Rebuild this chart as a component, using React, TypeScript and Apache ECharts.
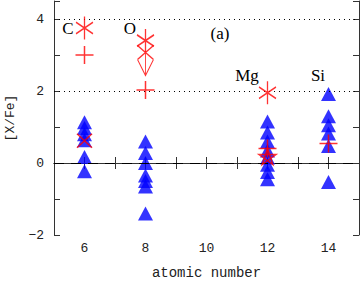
import React, { useEffect, useRef } from "react";
import * as echarts from "echarts";

// Atomic numbers of the elements
const elementNames = ["C", "O", "Mg", "Si"];
const atomicNumbers = [6, 8, 12, 14];

// Blue triangles: [X/Fe] values per element
const triC = [1.13, 0.97, 0.8, 0.63, 0.17, -0.23];
const triO = [0.6, 0.28, 0.0, -0.35, -0.5, -0.65, -1.4];
const triMg = [1.15, 0.85, 0.6, 0.35, 0.15, -0.05, -0.25, -0.45];
const triSi = [1.92, 1.3, 1.05, 0.82, 0.47, -0.53];

// Red markers: [atomic number, [X/Fe]]
const asteriskPts = [[6, 3.75], [8, 3.4], [12, 1.95]];
const plusPts = [[6, 3.0], [8, 2.03], [12, 0.4], [14, 0.54]];
const crossPts = [[6, 0.62]];
const starPts = [[12, 0.18]];
const upperLimitPts = [[8, 3.07]];

// Reference lines
const dottedLevels = [4, 2];
const dashedLevels = [0];

const xTicks = [6, 8, 10, 12, 14];

const PLUS = "path://M0,5L10,5M5,0L5,10";
const ASTERISK = "path://M5,0L5,13.5M0,3.4L10,10.1M0,10.1L10,3.4";
const CROSS = "path://M0,0L10,10M0,10L10,0";
const STAR = "path://M5,0L1.9,9.5L10,3.6L0,3.6L8.1,9.5Z";
const ARROW = "path://M0,0L16,14M0,14L16,0M0,14L8,30L16,14M8,7L8,30M5,24L8,30L11,24";

export default function App() {
  const ref = useRef<HTMLDivElement>(null);
  useEffect(() => {
    if (!ref.current) return;
    document.body.style.margin = "0";
    const chart = echarts.init(ref.current, undefined, { renderer: "svg" });
    const triData: number[][] = [];
    const triSets = [triC, triO, triMg, triSi];
    triSets.forEach((arr, i) => arr.forEach((v) => triData.push([atomicNumbers[i], v])));

    const redStyle = { color: "transparent", borderColor: "#ff0000", borderWidth: 1.5 };
    const tickFont = { fontFamily: "Liberation Mono", fontSize: 13, color: "#222" };
    const axisLine = { show: true, lineStyle: { color: "#333", width: 1 } };

    const labelPos = [
      [68, 28],
      [130, 28],
      [247, 75],
      [318, 75],
    ];

    chart.setOption({
      animation: false,
      grid: { left: 54, right: 1, top: 1, bottom: 46, outerBoundsMode: "none", containLabel: false },
      xAxis: [
        {
          type: "value",
          min: 5,
          max: 15,
          interval: 1,
          position: "bottom",
          name: "atomic number",
          nameLocation: "middle",
          nameGap: 31,
          nameTextStyle: { fontFamily: "Liberation Mono", fontSize: 14, color: "#222" },
          axisLine,
          axisTick: { show: true, inside: true, length: 6, lineStyle: { color: "#333" } },
          axisLabel: {
            ...tickFont,
            margin: 7,
            formatter: (v: number) => (xTicks.includes(v) ? String(v) : ""),
          },
          splitLine: { show: false },
        },
        {
          type: "value",
          min: 5,
          max: 15,
          interval: 1,
          position: "top",
          axisLine,
          axisTick: { show: true, inside: true, length: 6, lineStyle: { color: "#333" } },
          axisLabel: { show: false },
          splitLine: { show: false },
        },
      ],
      yAxis: [
        {
          type: "value",
          min: -2,
          max: 4.5,
          interval: 1,
          position: "left",
          name: "[X/Fe]",
          nameLocation: "middle",
          nameGap: 33,
          nameTextStyle: { fontFamily: "Liberation Mono", fontSize: 13, color: "#222" },
          axisLine,
          axisTick: { show: true, inside: true, length: 6, lineStyle: { color: "#333" } },
          axisLabel: {
            ...tickFont,
            margin: 10,
            formatter: (v: number) =>
              Math.abs(v % 2) === 0 && v <= 4 ? (v < 0 ? "\u2212" + Math.abs(v) : String(v)) : "",
          },
          splitLine: { show: false },
        },
        {
          type: "value",
          min: -2,
          max: 4.5,
          interval: 1,
          position: "right",
          axisLine,
          axisTick: { show: true, inside: true, length: 6, lineStyle: { color: "#333" } },
          axisLabel: { show: false },
          splitLine: { show: false },
        },
      ],
      series: [
        {
          type: "scatter",
          data: triData,
          symbol: "triangle",
          symbolSize: [15, 14],
          itemStyle: { color: "#0000ff" },
          z: 3,
          markLine: {
            silent: true,
            symbol: "none",
            label: { show: false },
            data: [
              ...dottedLevels.map((y) => ({
                yAxis: y,
                lineStyle: { type: [1, 4], color: "#000", width: 1 },
              })),
              ...dashedLevels.map((y) => ({
                yAxis: y,
                lineStyle: { type: [10, 7], color: "#000", width: 1 },
              })),
            ],
          },
        },
        {
          type: "scatter",
          data: asteriskPts,
          symbol: ASTERISK,
          symbolSize: [17, 23],
          itemStyle: redStyle,
          z: 5,
        },
        {
          type: "scatter",
          data: plusPts,
          symbol: PLUS,
          symbolSize: [18, 18],
          itemStyle: redStyle,
          z: 5,
        },
        {
          type: "scatter",
          data: crossPts,
          symbol: CROSS,
          symbolSize: [15, 14],
          itemStyle: redStyle,
          z: 5,
        },
        {
          type: "scatter",
          data: starPts,
          symbol: STAR,
          symbolSize: [17, 16],
          itemStyle: redStyle,
          z: 5,
        },
        {
          type: "scatter",
          data: upperLimitPts,
          symbol: ARROW,
          symbolSize: [16, 30],
          symbolOffset: [0, 8],
          itemStyle: { color: "transparent", borderColor: "#ff0000", borderWidth: 1.2 },
          z: 5,
        },
      ],
      graphic: [
        ...elementNames.map((n, i) => ({
          type: "text",
          x: labelPos[i][0],
          y: labelPos[i][1],
          style: {
            text: n,
            fontFamily: "Liberation Serif",
            fontSize: 17,
            fill: "#000",
            textAlign: "center",
            textVerticalAlign: "middle",
          },
        })),
        {
          type: "text",
          x: 220,
          y: 33,
          style: {
            text: "(a)",
            fontFamily: "Liberation Serif",
            fontSize: 17,
            fill: "#000",
            textAlign: "center",
            textVerticalAlign: "middle",
          },
        },
      ],
    });
    return () => chart.dispose();
  }, []);
  return <div ref={ref} style={{ width: 360, height: 281 }} />;
}
